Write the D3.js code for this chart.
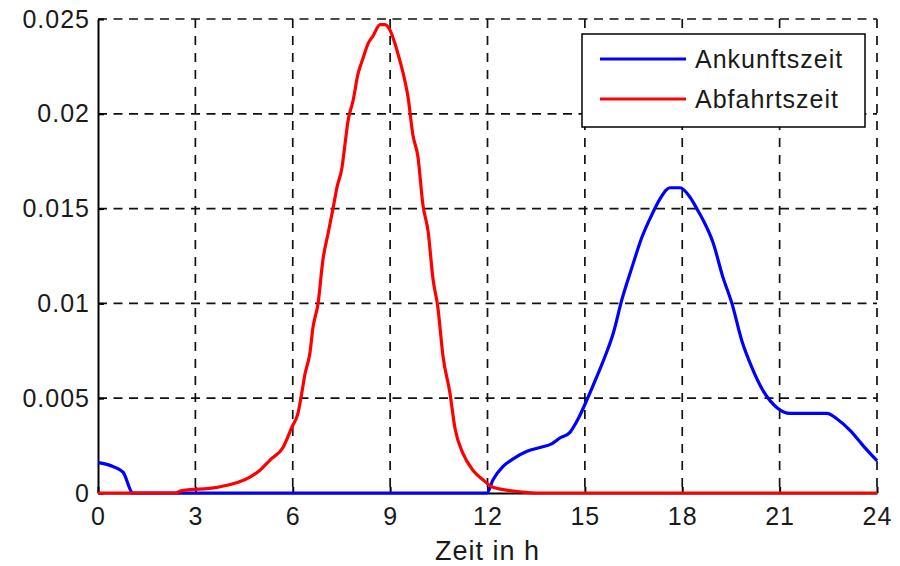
<!DOCTYPE html>
<html>
<head>
<meta charset="utf-8">
<script src="https://cdn.jsdelivr.net/npm/d3@7"></script>
<style>
  body { margin: 0; background: #fff; }
  text { font-family: "Liberation Sans", Arial, sans-serif; fill: #1a1a1a; letter-spacing: 1px; }
</style>
</head>
<body>
<svg id="chart" width="900" height="566"></svg>
<script>
// ticks
const xTicks = [0, 3, 6, 9, 12, 15, 18, 21, 24];
const yTicks = [0, 0.005, 0.01, 0.015, 0.02, 0.025];
const yTickLabels = ["0", "0.005", "0.01", "0.015", "0.02", "0.025"];

// Ankunftszeit (blue), [hour, value]
const ankunft = [
  [0, 0.0016], [0.46, 0.0014], [0.77, 0.0011], [1.08, 0], [6, 0], [11.98, 0],
  [12.17, 0.0007], [12.48, 0.0014], [12.79, 0.0018], [13.22, 0.0022], [13.62, 0.0024],
  [13.99, 0.0026], [14.23, 0.0029], [14.54, 0.0032], [14.79, 0.0039], [15.06, 0.0049],
  [15.31, 0.0059], [15.62, 0.0072], [15.87, 0.0084], [16.14, 0.0102], [16.45, 0.0119],
  [16.76, 0.0135], [17.07, 0.0147], [17.31, 0.0155], [17.62, 0.0161], [17.93, 0.0161],
  [18.24, 0.0156], [18.48, 0.0149], [18.64, 0.0144], [18.95, 0.0132], [19.25, 0.0114],
  [19.53, 0.0100], [19.84, 0.0080], [20.15, 0.0066], [20.49, 0.0054], [20.92, 0.0045],
  [21.32, 0.0042], [22.46, 0.0042], [22.77, 0.0039], [23.17, 0.0033], [23.57, 0.0025],
  [24, 0.0017]
];

// Abfahrtszeit (red), [hour, value]
const abfahrt = [
  [0, 0], [2.4, 0], [2.53, 0.0001], [3.67, 0.0003], [4.68, 0.00084], [4.99, 0.0012],
  [5.30, 0.00174], [5.70, 0.0024], [5.98, 0.0035], [6.16, 0.0042], [6.28, 0.0053],
  [6.38, 0.0063], [6.53, 0.0074], [6.62, 0.0087], [6.78, 0.0100], [6.93, 0.0123],
  [7.09, 0.0137], [7.24, 0.0150], [7.36, 0.0161], [7.52, 0.0172], [7.61, 0.0184],
  [7.70, 0.0196], [7.86, 0.0207], [8.01, 0.0221], [8.16, 0.0229], [8.32, 0.0237],
  [8.47, 0.0241], [8.69, 0.0247], [8.84, 0.0247], [9.00, 0.0244], [9.15, 0.0237],
  [9.30, 0.0228], [9.46, 0.0217], [9.55, 0.0209], [9.70, 0.0189], [9.86, 0.0177],
  [10.01, 0.0152], [10.17, 0.0138], [10.32, 0.0113], [10.47, 0.0098], [10.63, 0.0072],
  [10.84, 0.0053], [11.00, 0.0034], [11.24, 0.0021], [11.55, 0.0012], [11.86, 0.0007],
  [12.17, 0.0003], [13.09, 0.00005], [13.6, 0], [24, 0]
];

const series = [
  {name: "Ankunftszeit", color: "#0000ff", data: ankunft},
  {name: "Abfahrtszeit", color: "#ff0000", data: abfahrt}
];

const margin = {top: 19, right: 23, bottom: 73, left: 98};
const width = 900 - margin.left - margin.right;
const height = 566 - margin.top - margin.bottom;

const svg = d3.select("#chart");
const g = svg.append("g")
  .attr("transform", `translate(${margin.left},${margin.top})`);

const x = d3.scaleLinear().domain([0, 24]).range([0, width]);
const y = d3.scaleLinear().domain([0, 0.025]).range([height, 0]);

// grid
g.append("g").selectAll("line")
  .data(xTicks.slice(1))
  .join("line")
  .attr("x1", d => x(d)).attr("x2", d => x(d))
  .attr("y1", 0).attr("y2", height)
  .attr("stroke", "#111").attr("stroke-width", 1.7)
  .attr("stroke-dasharray", "9,8");

g.append("g").selectAll("line")
  .data(yTicks.slice(1))
  .join("line")
  .attr("x1", 0).attr("x2", width)
  .attr("y1", d => y(d)).attr("y2", d => y(d))
  .attr("stroke", "#111").attr("stroke-width", 1.7)
  .attr("stroke-dasharray", "9,6.5");

// axes
const xAxis = g.append("g")
  .attr("transform", `translate(0,${height})`)
  .call(d3.axisBottom(x).tickValues(xTicks).tickFormat(d3.format("d"))
    .tickSizeInner(-6).tickSizeOuter(0).tickPadding(14));
const yAxis = g.append("g")
  .call(d3.axisLeft(y).tickValues(yTicks).tickFormat((d, i) => yTickLabels[i])
    .tickSizeInner(-6).tickSizeOuter(0).tickPadding(8));

[xAxis, yAxis].forEach(a => {
  a.select(".domain").attr("stroke", "#000").attr("stroke-width", 2);
  a.selectAll(".tick line").attr("stroke", "#000").attr("stroke-width", 2);
  a.selectAll(".tick text").style("font-size", "25px").attr("fill", "#1a1a1a");
});

// lines
const line = d3.line().curve(d3.curveMonotoneX).x(d => x(d[0])).y(d => y(d[1]));
g.selectAll(".series")
  .data(series)
  .join("path")
  .attr("class", "series")
  .attr("fill", "none")
  .attr("stroke", d => d.color)
  .attr("stroke-width", 3.2)
  .attr("stroke-linejoin", "round")
  .attr("d", d => line(d.data));

// x label
svg.append("text")
  .attr("x", margin.left + width / 2)
  .attr("y", 560)
  .attr("text-anchor", "middle")
  .style("font-size", "27px")
  .text("Zeit in h");

// legend
const legend = svg.append("g").attr("transform", "translate(582,34)");
legend.append("rect")
  .attr("width", 283).attr("height", 93)
  .attr("fill", "#fff").attr("stroke", "#000").attr("stroke-width", 1.5);
const items = legend.selectAll(".item")
  .data(series)
  .join("g")
  .attr("class", "item")
  .attr("transform", (d, i) => `translate(0,${25 + i * 40})`);
items.append("line")
  .attr("x1", 18).attr("x2", 104)
  .attr("stroke", d => d.color).attr("stroke-width", 3.2);
items.append("text")
  .attr("x", 113).attr("y", 9)
  .style("font-size", "25px")
  .text(d => d.name);
</script>
</body>
</html>
